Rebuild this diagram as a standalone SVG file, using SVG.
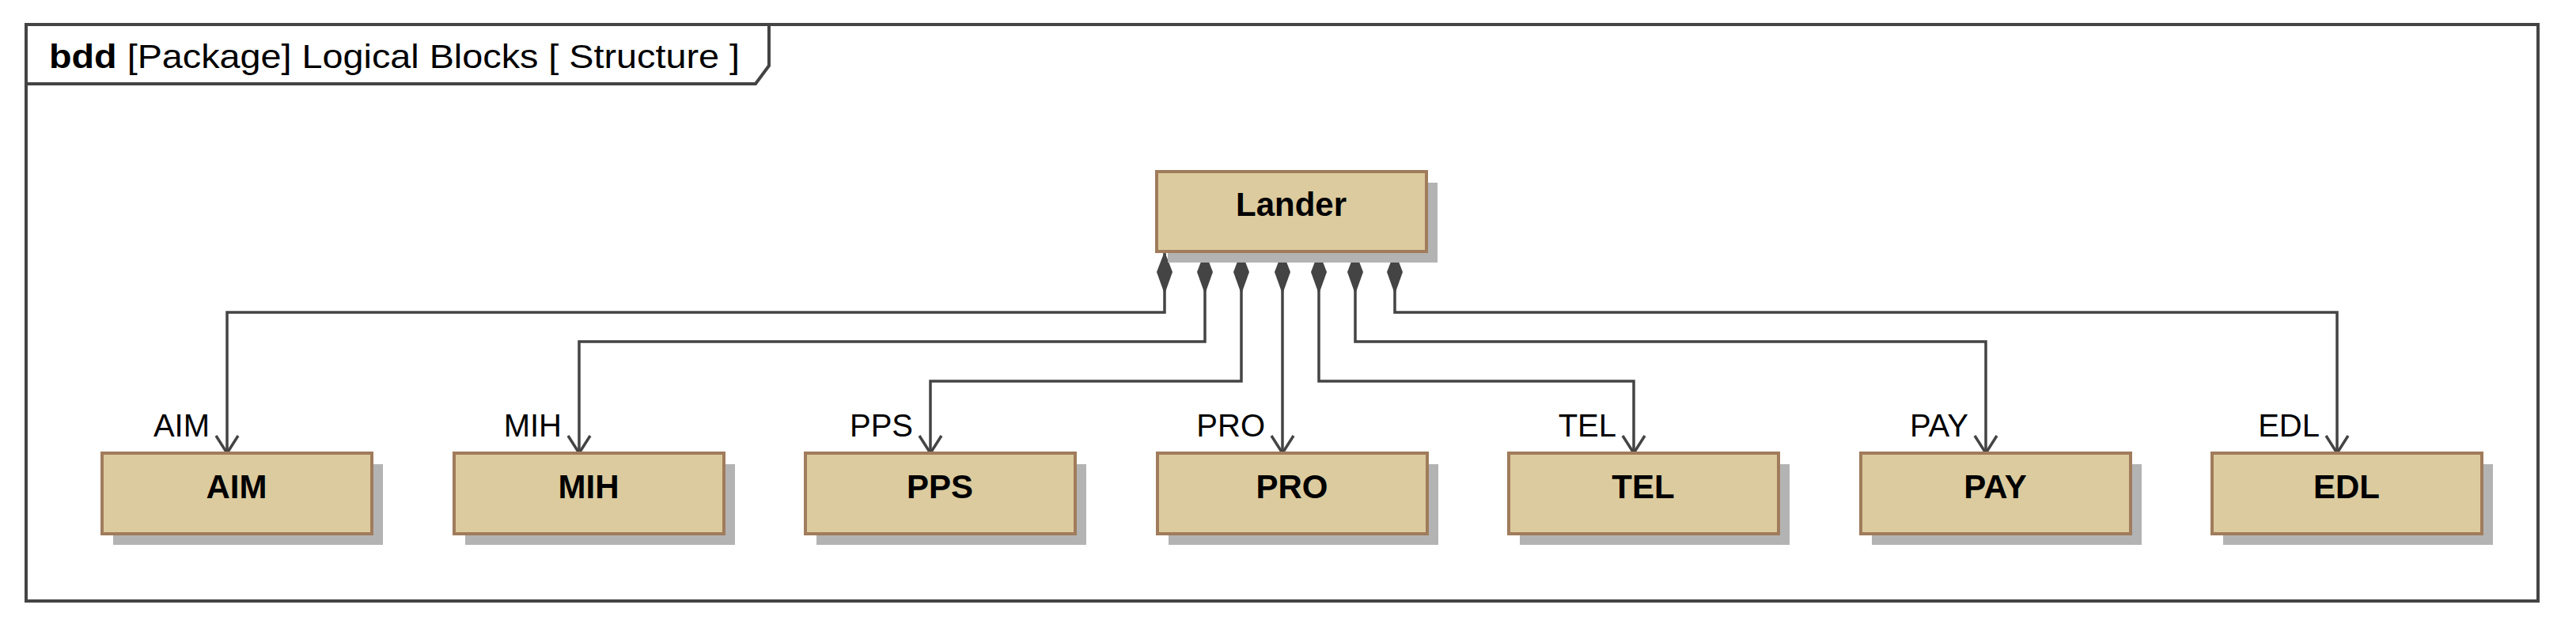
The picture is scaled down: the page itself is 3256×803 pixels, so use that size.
<svg xmlns="http://www.w3.org/2000/svg" width="3256" height="803" viewBox="0 0 3256 803">
<style>
.blk{fill:#dccb9e;stroke:#a07c5c;stroke-width:4}
.sh{fill:#b3b3b3}
.bt{font-family:"Liberation Sans",Arial,sans-serif;font-weight:bold;font-size:42px;text-anchor:middle;fill:#000}
.rl{font-family:"Liberation Sans",Arial,sans-serif;font-size:40px;text-anchor:end;fill:#000}
.ln{fill:none;stroke:#444;stroke-width:3.5}
</style>
<defs>
<marker id="dia" markerWidth="24" markerHeight="54" refX="12" refY="0" orient="0" markerUnits="userSpaceOnUse" viewBox="0 0 24 54"><path d="M12 0 L22 26 L12 54 L2 26 Z" fill="#444"/></marker>
<marker id="arr" markerWidth="32" markerHeight="26" refX="16" refY="24" markerUnits="userSpaceOnUse" viewBox="0 0 32 26"><path d="M2 2 L16 24 L30 2" fill="none" stroke="#444" stroke-width="3.5"/></marker>
</defs>
<rect width="3256" height="803" fill="#fff"/>
<g id="frame">
<rect x="33" y="31" width="3175" height="729" fill="none" stroke="#444" stroke-width="4"/>
<path d="M33 106 L955 106 L972 83 L972 31" fill="none" stroke="#444" stroke-width="4"/>
<text x="62" y="86" font-family="'Liberation Sans',Arial,sans-serif" font-size="42" textLength="873" lengthAdjust="spacingAndGlyphs"><tspan font-weight="bold">bdd</tspan> [Package] Logical Blocks [ Structure ]</text>
</g>
<g id="connectors">
<path class="ln" d="M1472 318 V395 H287 V573" marker-start="url(#dia)" marker-end="url(#arr)"/>
<path class="ln" d="M1523 318 V432 H732 V573" marker-start="url(#dia)" marker-end="url(#arr)"/>
<path class="ln" d="M1569 318 V482 H1176 V573" marker-start="url(#dia)" marker-end="url(#arr)"/>
<path class="ln" d="M1621 318 V573" marker-start="url(#dia)" marker-end="url(#arr)"/>
<path class="ln" d="M1667 318 V482 H2065 V573" marker-start="url(#dia)" marker-end="url(#arr)"/>
<path class="ln" d="M1713 318 V432 H2510 V573" marker-start="url(#dia)" marker-end="url(#arr)"/>
<path class="ln" d="M1763 318 V395 H2954 V573" marker-start="url(#dia)" marker-end="url(#arr)"/>
<text class="rl" x="265" y="552">AIM</text>
<text class="rl" x="710" y="552">MIH</text>
<text class="rl" x="1154" y="552">PPS</text>
<text class="rl" x="1599" y="552">PRO</text>
<text class="rl" x="2043" y="552">TEL</text>
<text class="rl" x="2488" y="552">PAY</text>
<text class="rl" x="2932" y="552">EDL</text>
</g>
<g id="Lander"><rect class="sh" x="1476" y="231" width="341" height="101"/><rect class="blk" x="1462" y="217" width="341" height="101"/><text class="bt" x="1632" y="273">Lander</text></g>
<g id="AIM"><rect class="sh" x="143" y="587" width="341" height="102"/><rect class="blk" x="129" y="573" width="341" height="102"/><text class="bt" x="299" y="630">AIM</text></g>
<g id="MIH"><rect class="sh" x="588" y="587" width="341" height="102"/><rect class="blk" x="574" y="573" width="341" height="102"/><text class="bt" x="744" y="630">MIH</text></g>
<g id="PPS"><rect class="sh" x="1032" y="587" width="341" height="102"/><rect class="blk" x="1018" y="573" width="341" height="102"/><text class="bt" x="1188" y="630">PPS</text></g>
<g id="PRO"><rect class="sh" x="1477" y="587" width="341" height="102"/><rect class="blk" x="1463" y="573" width="341" height="102"/><text class="bt" x="1633" y="630">PRO</text></g>
<g id="TEL"><rect class="sh" x="1921" y="587" width="341" height="102"/><rect class="blk" x="1907" y="573" width="341" height="102"/><text class="bt" x="2077" y="630">TEL</text></g>
<g id="PAY"><rect class="sh" x="2366" y="587" width="341" height="102"/><rect class="blk" x="2352" y="573" width="341" height="102"/><text class="bt" x="2522" y="630">PAY</text></g>
<g id="EDL"><rect class="sh" x="2810" y="587" width="341" height="102"/><rect class="blk" x="2796" y="573" width="341" height="102"/><text class="bt" x="2966" y="630">EDL</text></g>
</svg>
